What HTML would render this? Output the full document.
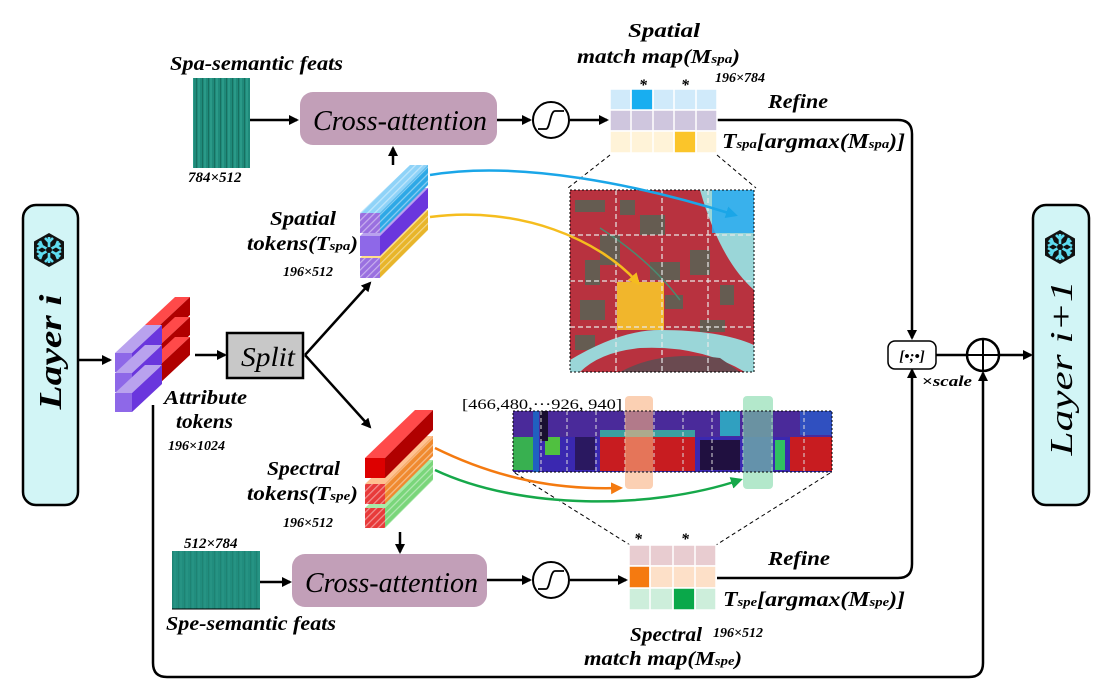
<!DOCTYPE html>
<html><head><meta charset="utf-8"><style>
html,body{margin:0;padding:0;background:#fff;}
svg{display:block;}
text{font-family:"Liberation Serif",serif;font-style:italic;font-weight:bold;fill:#000;}
</style></head><body>
<svg width="1099" height="685" viewBox="0 0 1099 685" xmlns="http://www.w3.org/2000/svg">
<defs>
<marker id="ar" markerWidth="10" markerHeight="10" refX="8" refY="5" orient="auto" markerUnits="userSpaceOnUse"><path d="M0,0 L10,5 L0,10 z" fill="#000"/></marker>
<marker id="arB" markerWidth="12" markerHeight="12" refX="9" refY="6" orient="auto" markerUnits="userSpaceOnUse"><path d="M0,0 L12,6 L0,12 z" fill="#1aa6e8"/></marker>
<marker id="arY" markerWidth="12" markerHeight="12" refX="9" refY="6" orient="auto" markerUnits="userSpaceOnUse"><path d="M0,0 L12,6 L0,12 z" fill="#f5bd1e"/></marker>
<marker id="arO" markerWidth="12" markerHeight="12" refX="9" refY="6" orient="auto" markerUnits="userSpaceOnUse"><path d="M0,0 L12,6 L0,12 z" fill="#f47a10"/></marker>
<marker id="arG" markerWidth="12" markerHeight="12" refX="9" refY="6" orient="auto" markerUnits="userSpaceOnUse"><path d="M0,0 L12,6 L0,12 z" fill="#16a84a"/></marker>
<pattern id="stripeV" width="6" height="10" patternUnits="userSpaceOnUse"><rect width="6" height="10" fill="#1f8a7a"/><rect width="2" height="10" fill="#2a9a88"/><rect x="4" width="1" height="10" fill="#177060"/></pattern>
<pattern id="hatch" width="5" height="5" patternUnits="userSpaceOnUse" patternTransform="rotate(45)"><rect width="5" height="5" fill="none"/><rect width="1.2" height="5" fill="#fff" opacity="0.45"/></pattern>
<g id="snow"><polygon points="0,-17 15,-8.5 15,8.5 0,17 -15,8.5 -15,-8.5" fill="#111"/>
<g stroke="#5fdcf0" stroke-width="2.6" fill="none"><path d="M0,-13 V13 M-11.3,-6.5 L11.3,6.5 M-11.3,6.5 L11.3,-6.5"/><path d="M-4,-12 L0,-8 L4,-12 M-4,12 L0,8 L4,12 M-12,-1 L-7,-4 L-9,-9 M12,1 L7,4 L9,9 M-12,1 L-7,4 L-9,9 M12,-1 L7,-4 L9,-9"/></g><circle r="3" fill="#111"/></g>
</defs>

<rect x="23" y="205" width="55" height="300" rx="13" fill="#d2f5f6" stroke="#000" stroke-width="2.5"/>
<use href="#snow" x="49" y="250"/>
<text transform="translate(61,352) rotate(-90)" font-size="32" text-anchor="middle" textLength="115" lengthAdjust="spacingAndGlyphs" font-weight="normal">Layer i</text>
<rect x="1033" y="205" width="56" height="300" rx="13" fill="#d2f5f6" stroke="#000" stroke-width="2.5"/>
<use href="#snow" x="1060" y="247"/>
<text transform="translate(1072,368) rotate(-90)" font-size="32" text-anchor="middle" textLength="175" lengthAdjust="spacingAndGlyphs" style="font-weight:normal">Layer i+1</text>

<g stroke="#000" stroke-width="2.5" fill="none">
<line x1="78" y1="360" x2="110" y2="360" marker-end="url(#ar)"/>
<line x1="195" y1="355" x2="225" y2="355" marker-end="url(#ar)"/>
<line x1="305" y1="355" x2="370" y2="283" marker-end="url(#ar)"/>
<line x1="305" y1="355" x2="370" y2="427" marker-end="url(#ar)"/>
<line x1="393" y1="165" x2="393" y2="148" marker-end="url(#ar)"/>
<line x1="250" y1="120" x2="297" y2="120" marker-end="url(#ar)"/>
<line x1="497" y1="120" x2="530" y2="120" marker-end="url(#ar)"/>
<line x1="570" y1="120" x2="607" y2="120" marker-end="url(#ar)"/>
<line x1="400" y1="532" x2="400" y2="552" marker-end="url(#ar)"/>
<line x1="260" y1="582" x2="290" y2="582" marker-end="url(#ar)"/>
<line x1="487" y1="580" x2="530" y2="580" marker-end="url(#ar)"/>
<line x1="570" y1="580" x2="626" y2="580" marker-end="url(#ar)"/>
<path d="M717,120 H898 Q912,120 912,134 V338" marker-end="url(#ar)"/>
<path d="M717,578 H898 Q912,578 912,564 V370" marker-end="url(#ar)"/>
<line x1="936" y1="355" x2="1031" y2="355" marker-end="url(#ar)"/>
<path d="M153,405 V663 Q153,677 167,677 H969 Q983,677 983,663 V373" marker-end="url(#ar)"/>
</g>

<g>
<g id="redbar"><polygon points="145,325 175,297 190,297 160,325" fill="#ff4a4a"/><polygon points="160,325 190,297 190,315 160,343" fill="#b00000"/></g>
<use href="#redbar" y="20"/><use href="#redbar" y="40"/>
</g>
<g>
<g id="pbar"><polygon points="115,353 145,325 162,325 132,353" fill="#b9a2ee"/><polygon points="132,353 162,325 162,344 132,372" fill="#6a36dd"/><rect x="115" y="353" width="17" height="19" fill="#8e68e8"/></g>
<use href="#pbar" y="20"/><use href="#pbar" y="40"/>
</g>
<text x="164" y="404" font-size="20" textLength="83" lengthAdjust="spacingAndGlyphs">Attribute</text>
<text x="176" y="428" font-size="20" textLength="57" lengthAdjust="spacingAndGlyphs">tokens</text>
<text x="168" y="450" font-size="14">196×1024</text>

<rect x="227" y="333" width="76" height="45" fill="#c8c8c8" stroke="#000" stroke-width="2.5"/>
<text x="241" y="366" font-size="27" textLength="54" lengthAdjust="spacingAndGlyphs" style="font-weight:normal">Split</text>

<g>
<polygon points="360,258 410,210 428,210 380,258" fill="#ffe08a"/>
<polygon points="380,258 428,210 428,230 380,278" fill="#e8b52a"/><polygon points="380,258 428,210 428,230 380,278" fill="url(#hatch)"/>
<rect x="360" y="258" width="20" height="20" fill="#9a70e0"/><rect x="360" y="258" width="20" height="20" fill="url(#hatch)"/>
<polygon points="360,236 410,188 428,188 380,236" fill="#b9a2ee"/>
<polygon points="380,236 428,188 428,208 380,256" fill="#6a36dd"/>
<rect x="360" y="236" width="20" height="20" fill="#8e68e8"/>
<polygon points="360,213 410,165 428,165 380,213" fill="#8fd3f8"/><polygon points="360,213 410,165 428,165 380,213" fill="url(#hatch)"/>
<polygon points="380,213 428,165 428,185 380,233" fill="#2ea8e6"/><polygon points="380,213 428,165 428,185 380,233" fill="url(#hatch)"/>
<rect x="360" y="213" width="20" height="20" fill="#9a70e0"/><rect x="360" y="213" width="20" height="20" fill="url(#hatch)"/>
</g>
<text x="270" y="225" font-size="20" textLength="66" lengthAdjust="spacingAndGlyphs">Spatial</text>
<text x="247" y="250" font-size="20" textLength="111" lengthAdjust="spacingAndGlyphs">tokens(T<tspan font-size="13">spa</tspan>)</text>
<text x="283" y="276" font-size="14">196×512</text>

<g>
<polygon points="365,508 415,460 433,460 385,508" fill="#a8eaa8"/>
<polygon points="385,508 433,460 433,480 385,528" fill="#7ad67a"/><polygon points="385,508 433,460 433,480 385,528" fill="url(#hatch)"/>
<rect x="365" y="508" width="20" height="20" fill="#e83a3a"/><rect x="365" y="508" width="20" height="20" fill="url(#hatch)"/>
<polygon points="365,484 415,436 433,436 385,484" fill="#ffc090"/>
<polygon points="385,484 433,436 433,456 385,504" fill="#f08a30"/><polygon points="385,484 433,436 433,456 385,504" fill="url(#hatch)"/>
<rect x="365" y="484" width="20" height="20" fill="#e83a3a"/><rect x="365" y="484" width="20" height="20" fill="url(#hatch)"/>
<polygon points="365,458 415,410 433,410 385,458" fill="#ff4a4a"/>
<polygon points="385,458 433,410 433,430 385,478" fill="#b00000"/>
<rect x="365" y="458" width="20" height="20" fill="#dd0000"/>
</g>
<text x="267" y="475" font-size="20" textLength="73" lengthAdjust="spacingAndGlyphs">Spectral</text>
<text x="247" y="500" font-size="20" textLength="111" lengthAdjust="spacingAndGlyphs">tokens(T<tspan font-size="13">spe</tspan>)</text>
<text x="283" y="527" font-size="14">196×512</text>

<text x="170" y="70" font-size="20" textLength="173" lengthAdjust="spacingAndGlyphs">Spa-semantic feats</text>
<rect x="193" y="78" width="57" height="90" fill="url(#stripeV)"/>
<text x="188" y="182" font-size="15">784×512</text>
<text x="184" y="548" font-size="15">512×784</text>
<rect x="172" y="551" width="88" height="58" fill="#238f80"/>
<rect x="172" y="551" width="88" height="58" fill="url(#stripeV)" opacity="0.4"/>
<line x1="172" y1="609" x2="260" y2="609" stroke="#000" stroke-width="1"/>
<text x="166" y="630" font-size="20" textLength="170" lengthAdjust="spacingAndGlyphs">Spe-semantic feats</text>

<rect x="300" y="92" width="197" height="53" rx="13" fill="#c29fb8"/>
<text x="313" y="130" font-size="29" textLength="174" lengthAdjust="spacingAndGlyphs" style="font-weight:normal">Cross-attention</text>
<rect x="292" y="554" width="195" height="53" rx="13" fill="#c29fb8"/>
<text x="305" y="592" font-size="29" textLength="173" lengthAdjust="spacingAndGlyphs" style="font-weight:normal">Cross-attention</text>

<g fill="#fff" stroke="#000" stroke-width="2">
<circle cx="551" cy="120" r="18"/><circle cx="551" cy="580" r="18"/>
</g>
<g fill="none" stroke="#000" stroke-width="1.8">
<path d="M538,129 H546 C550,129 550,111 555,111 H564"/>
<path d="M538,589 H546 C550,589 550,571 555,571 H564"/>
</g>

<text x="628" y="37" font-size="20" textLength="72" lengthAdjust="spacingAndGlyphs">Spatial</text>
<text x="577" y="63" font-size="20" textLength="163" lengthAdjust="spacingAndGlyphs">match map(M<tspan font-size="13">spa</tspan>)</text>
<text x="715" y="82" font-size="14">196×784</text>
<text x="643" y="90" font-size="16" text-anchor="middle" font-style="normal">*</text>
<text x="685" y="90" font-size="16" text-anchor="middle" font-style="normal">*</text>
<g stroke="#fff" stroke-width="1.5">
<rect x="610" y="89" width="107" height="21" fill="#d0eafa"/>
<rect x="610" y="110" width="107" height="21" fill="#cfc6de"/>
<rect x="610" y="131" width="107" height="22" fill="#fff3d8"/>
<rect x="631" y="89" width="22" height="21" fill="#18aef0"/>
<rect x="674" y="131" width="22" height="22" fill="#fbc52a"/>
<line x1="631" y1="89" x2="631" y2="153"/><line x1="653" y1="89" x2="653" y2="153"/><line x1="674" y1="89" x2="674" y2="153"/><line x1="696" y1="89" x2="696" y2="153"/>
</g>
<text x="768" y="108" font-size="20" textLength="60" lengthAdjust="spacingAndGlyphs">Refine</text>
<text x="722" y="148" font-size="21" textLength="183" lengthAdjust="spacingAndGlyphs">T<tspan font-size="13">spa</tspan>[argmax(M<tspan font-size="13">spa</tspan>)]</text>

<g stroke="#000" stroke-width="1" stroke-dasharray="4,3" fill="none">
<line x1="610" y1="155" x2="568" y2="188"/><line x1="717" y1="155" x2="756" y2="188"/>
<line x1="515" y1="473" x2="630" y2="545"/><line x1="830" y1="473" x2="716" y2="545"/>
</g>

<g>
<rect x="570" y="190" width="184" height="182" fill="#b8323f"/>
<g fill="#4a6a58" opacity="0.75">
<rect x="575" y="200" width="30" height="12"/><rect x="600" y="235" width="20" height="30"/><rect x="640" y="215" width="25" height="20"/>
<rect x="580" y="300" width="25" height="20"/><rect x="690" y="250" width="20" height="25"/><rect x="650" y="262" width="30" height="18"/>
<rect x="700" y="320" width="25" height="12"/><rect x="620" y="200" width="15" height="15"/><rect x="585" y="260" width="15" height="25"/>
<rect x="575" y="335" width="20" height="15"/><rect x="665" y="295" width="18" height="14"/><rect x="720" y="285" width="14" height="20"/>
</g>
<path d="M700,190 L754,190 L754,290 Q720,260 700,190 Z" fill="#9ad6d8"/>
<path d="M570,360 Q620,330 660,330 Q720,330 754,345 L754,372 L745,372 Q700,345 640,348 Q600,352 580,372 L570,372 Z" fill="#9ad6d8"/>
<path d="M620,372 Q660,350 720,358 L740,372 Z" fill="#6a4a50"/>
<path d="M600,228 Q650,260 680,300" stroke="#4a8a70" stroke-width="1.5" fill="none"/>
<rect x="712" y="190" width="42" height="43" fill="#28aaf0" opacity="0.85"/>
<rect x="617" y="282" width="47" height="48" fill="#f8c82a" opacity="0.88"/>
<g stroke="#e8e8e8" stroke-width="1.2" stroke-dasharray="5,3">
<line x1="616" y1="190" x2="616" y2="372"/><line x1="662" y1="190" x2="662" y2="372"/><line x1="708" y1="190" x2="708" y2="372"/>
<line x1="570" y1="235" x2="754" y2="235"/><line x1="570" y1="281" x2="754" y2="281"/><line x1="570" y1="327" x2="754" y2="327"/>
</g>
<rect x="570" y="190" width="184" height="182" fill="none" stroke="#000" stroke-width="1" stroke-dasharray="2,2"/>
</g>

<text x="462" y="409" font-size="15" font-style="normal" fill="#333" textLength="160" lengthAdjust="spacingAndGlyphs" style="font-style:normal;font-weight:normal">[466,480,···926, 940]</text>
<g>
<rect x="513" y="411" width="319" height="61" fill="#3a28b0"/>
<rect x="513" y="411" width="319" height="26" fill="#4a2a9a"/>
<rect x="513" y="437" width="20" height="33" fill="#38b050"/>
<rect x="545" y="437" width="15" height="18" fill="#50c040"/>
<rect x="533" y="411" width="6" height="61" fill="#2060c0"/>
<rect x="540" y="411" width="8" height="30" fill="#1a1030"/>
<rect x="575" y="437" width="20" height="33" fill="#2a1860"/>
<rect x="600" y="437" width="95" height="34" fill="#c81c20"/>
<rect x="600" y="430" width="95" height="7" fill="#3aa0a0"/>
<rect x="700" y="440" width="40" height="30" fill="#201040"/>
<rect x="720" y="411" width="20" height="25" fill="#30a0c0"/>
<rect x="775" y="440" width="10" height="30" fill="#30c060"/>
<rect x="790" y="437" width="42" height="34" fill="#c81c20"/>
<rect x="800" y="411" width="32" height="24" fill="#3050c0"/>
<g stroke="#ddd" stroke-width="1" stroke-dasharray="4,3">
<line x1="541" y1="411" x2="541" y2="472"/><line x1="567" y1="411" x2="567" y2="472"/><line x1="596" y1="411" x2="596" y2="472"/>
<line x1="625" y1="411" x2="625" y2="472"/><line x1="654" y1="411" x2="654" y2="472"/><line x1="683" y1="411" x2="683" y2="472"/>
<line x1="712" y1="411" x2="712" y2="472"/><line x1="743" y1="411" x2="743" y2="472"/><line x1="772" y1="411" x2="772" y2="472"/><line x1="804" y1="411" x2="804" y2="472"/>
</g>
<rect x="625" y="396" width="28" height="93" rx="4" fill="#f8b080" opacity="0.6"/>
<rect x="743" y="396" width="30" height="93" rx="4" fill="#80d8a8" opacity="0.6"/>
<rect x="513" y="411" width="319" height="61" fill="none" stroke="#000" stroke-width="1" stroke-dasharray="2,2"/>
</g>

<g fill="none" stroke-width="2.5">
<path d="M430,175 C520,160 640,185 735,215" stroke="#1aa6e8" marker-end="url(#arB)"/>
<path d="M430,217 C520,205 600,240 638,283" stroke="#f5bd1e" marker-end="url(#arY)"/>
<path d="M435,448 C500,480 560,490 620,488" stroke="#f47a10" marker-end="url(#arO)"/>
<path d="M435,470 C520,510 650,510 740,480" stroke="#16a84a" marker-end="url(#arG)"/>
</g>

<text x="638" y="544" font-size="16" text-anchor="middle" font-style="normal">*</text>
<text x="685" y="544" font-size="16" text-anchor="middle" font-style="normal">*</text>
<g stroke="#fff" stroke-width="1.5">
<rect x="629" y="545" width="87" height="21" fill="#e8ccd0"/>
<rect x="629" y="566" width="87" height="22" fill="#fde0c8"/>
<rect x="629" y="588" width="87" height="22" fill="#cdeedb"/>
<rect x="629" y="566" width="21" height="22" fill="#f57a10"/>
<rect x="673" y="588" width="22" height="22" fill="#0aa84a"/>
<line x1="650" y1="545" x2="650" y2="610"/><line x1="673" y1="545" x2="673" y2="610"/><line x1="695" y1="545" x2="695" y2="610"/>
</g>
<text x="768" y="565" font-size="20" textLength="62" lengthAdjust="spacingAndGlyphs">Refine</text>
<text x="723" y="606" font-size="21" textLength="182" lengthAdjust="spacingAndGlyphs">T<tspan font-size="13">spe</tspan>[argmax(M<tspan font-size="13">spe</tspan>)]</text>
<text x="630" y="641" font-size="20" textLength="72" lengthAdjust="spacingAndGlyphs">Spectral</text>
<text x="713" y="637" font-size="14">196×512</text>
<text x="584" y="665" font-size="20" textLength="158" lengthAdjust="spacingAndGlyphs">match map(M<tspan font-size="13">spe</tspan>)</text>

<rect x="888" y="341" width="48" height="28" rx="7" fill="#fff" stroke="#000" stroke-width="1.5"/>
<text x="912" y="361" font-size="15" text-anchor="middle" fill="#0a1a60">[•;•]</text>
<text x="922" y="386" font-size="15" fill="#0a1a60" textLength="50" lengthAdjust="spacingAndGlyphs"><tspan style="font-style:normal">×</tspan>scale</text>
<circle cx="983" cy="355" r="16" fill="#fff" stroke="#000" stroke-width="2.5"/>
<path d="M967,355 H999 M983,339 V371" stroke="#000" stroke-width="2"/>
</svg>
</body></html>
